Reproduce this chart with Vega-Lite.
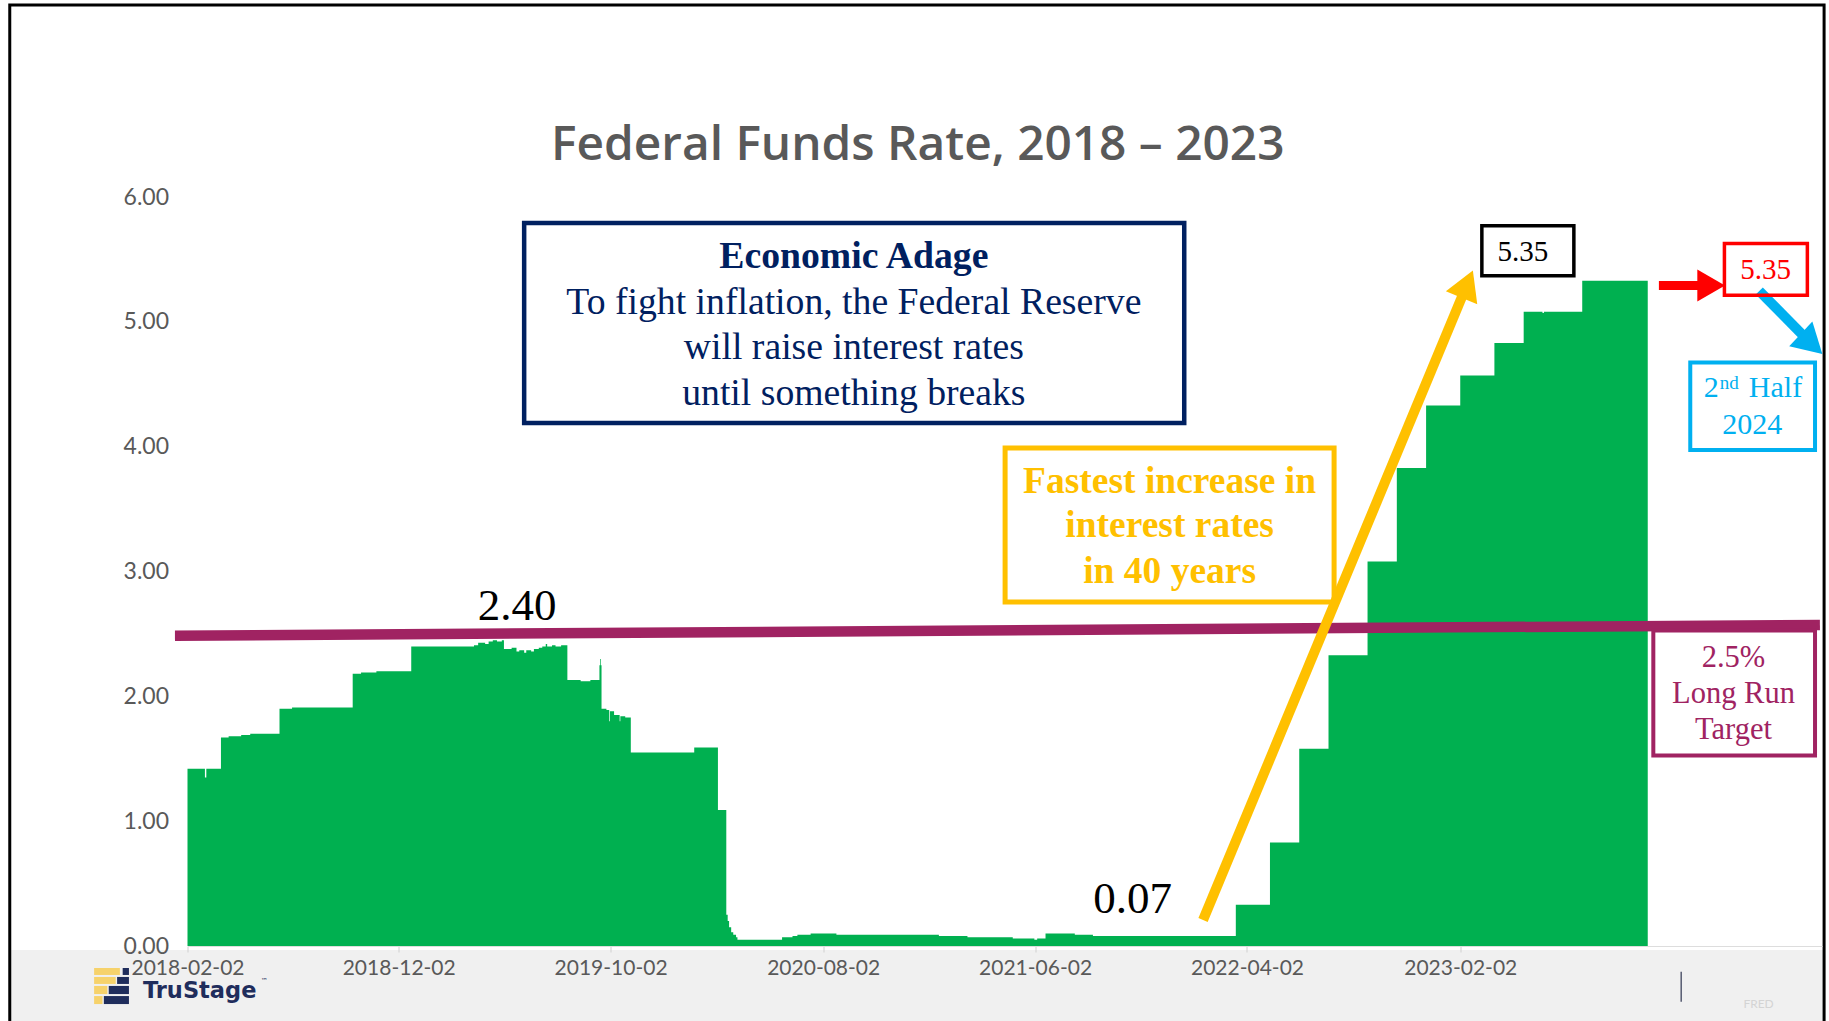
{
  "$schema": "https://vega.github.io/schema/vega-lite/v6.json",
  "width": 1634.5,
  "height": 749,
  "autosize": {"type": "none"},
  "padding": {"left": 187.5, "top": 197, "right": 7, "bottom": 75},
  "background": "white",
  "config": {"view": {"stroke": null}},
  "title": {
    "text": "Federal Funds Rate, 2018 – 2023",
    "font": "Open Sans",
    "fontSize": 47.8,
    "fontWeight": 600,
    "color": "#595959",
    "anchor": "middle",
    "frame": "group",
    "dx": -87,
    "offset": -204,
    "baseline": "alphabetic"
  },
  "layer": [
    {
      "data": {"values": [{}]},
      "mark": {"type": "rect", "color": "#f0f0f0"},
      "encoding": {
        "x": {"datum": {"year": 2017, "month": 5, "date": 23, "utc": true}, "type": "temporal"},
        "x2": {"datum": {"year": 2024, "month": 7, "date": 8, "utc": true}},
        "y": {"datum": -0.032, "type": "quantitative"},
        "y2": {"datum": -0.75}
      }
    },
    {
      "data": {"values": [
        {"date": "2018-02-02", "rate": 1.42},
        {"date": "2018-02-27", "rate": 1.35},
        {"date": "2018-03-01", "rate": 1.42},
        {"date": "2018-03-22", "rate": 1.67},
        {"date": "2018-04-02", "rate": 1.68},
        {"date": "2018-04-20", "rate": 1.69},
        {"date": "2018-05-03", "rate": 1.70},
        {"date": "2018-06-14", "rate": 1.90},
        {"date": "2018-07-02", "rate": 1.91},
        {"date": "2018-09-27", "rate": 2.18},
        {"date": "2018-10-09", "rate": 2.19},
        {"date": "2018-10-31", "rate": 2.20},
        {"date": "2018-12-20", "rate": 2.40},
        {"date": "2019-03-20", "rate": 2.41},
        {"date": "2019-03-26", "rate": 2.43},
        {"date": "2019-04-05", "rate": 2.42},
        {"date": "2019-04-10", "rate": 2.44},
        {"date": "2019-04-16", "rate": 2.45},
        {"date": "2019-04-22", "rate": 2.44},
        {"date": "2019-04-29", "rate": 2.45},
        {"date": "2019-05-02", "rate": 2.38},
        {"date": "2019-05-13", "rate": 2.39},
        {"date": "2019-05-20", "rate": 2.36},
        {"date": "2019-05-24", "rate": 2.37},
        {"date": "2019-05-31", "rate": 2.35},
        {"date": "2019-06-03", "rate": 2.37},
        {"date": "2019-06-10", "rate": 2.36},
        {"date": "2019-06-14", "rate": 2.38},
        {"date": "2019-06-21", "rate": 2.39},
        {"date": "2019-06-26", "rate": 2.40},
        {"date": "2019-07-01", "rate": 2.42},
        {"date": "2019-07-03", "rate": 2.40},
        {"date": "2019-07-10", "rate": 2.41},
        {"date": "2019-07-15", "rate": 2.40},
        {"date": "2019-07-23", "rate": 2.41},
        {"date": "2019-08-01", "rate": 2.13},
        {"date": "2019-08-20", "rate": 2.12},
        {"date": "2019-09-03", "rate": 2.13},
        {"date": "2019-09-16", "rate": 2.25},
        {"date": "2019-09-17", "rate": 2.30},
        {"date": "2019-09-18", "rate": 2.25},
        {"date": "2019-09-19", "rate": 1.90},
        {"date": "2019-09-26", "rate": 1.89},
        {"date": "2019-09-30", "rate": 1.80},
        {"date": "2019-10-01", "rate": 1.88},
        {"date": "2019-10-07", "rate": 1.85},
        {"date": "2019-10-15", "rate": 1.80},
        {"date": "2019-10-16", "rate": 1.84},
        {"date": "2019-10-23", "rate": 1.83},
        {"date": "2019-10-31", "rate": 1.55},
        {"date": "2020-01-30", "rate": 1.59},
        {"date": "2020-03-04", "rate": 1.09},
        {"date": "2020-03-16", "rate": 0.25},
        {"date": "2020-03-18", "rate": 0.20},
        {"date": "2020-03-20", "rate": 0.15},
        {"date": "2020-03-23", "rate": 0.11},
        {"date": "2020-03-26", "rate": 0.09},
        {"date": "2020-03-30", "rate": 0.07},
        {"date": "2020-04-01", "rate": 0.05},
        {"date": "2020-06-04", "rate": 0.07},
        {"date": "2020-06-19", "rate": 0.08},
        {"date": "2020-06-26", "rate": 0.09},
        {"date": "2020-07-15", "rate": 0.10},
        {"date": "2020-08-21", "rate": 0.09},
        {"date": "2021-01-15", "rate": 0.08},
        {"date": "2021-02-25", "rate": 0.07},
        {"date": "2021-05-01", "rate": 0.06},
        {"date": "2021-06-01", "rate": 0.05},
        {"date": "2021-06-05", "rate": 0.06},
        {"date": "2021-06-17", "rate": 0.10},
        {"date": "2021-07-29", "rate": 0.09},
        {"date": "2021-08-24", "rate": 0.08},
        {"date": "2022-03-17", "rate": 0.33},
        {"date": "2022-05-05", "rate": 0.83},
        {"date": "2022-06-16", "rate": 1.58},
        {"date": "2022-07-28", "rate": 2.33},
        {"date": "2022-09-22", "rate": 3.08},
        {"date": "2022-11-03", "rate": 3.83},
        {"date": "2022-12-15", "rate": 4.33},
        {"date": "2023-02-02", "rate": 4.57},
        {"date": "2023-03-23", "rate": 4.83},
        {"date": "2023-05-04", "rate": 5.08},
        {"date": "2023-05-31", "rate": 5.07},
        {"date": "2023-06-02", "rate": 5.08},
        {"date": "2023-07-27", "rate": 5.33},
        {"date": "2023-10-29", "rate": 5.33}
      ]},
      "mark": {"type": "area", "interpolate": "step-after", "color": "#00b050"},
      "encoding": {
        "x": {
          "field": "date", "type": "temporal",
          "scale": {"type": "utc", "domain": [
            {"year": 2018, "month": 2, "date": 2, "utc": true},
            {"year": 2024, "month": 7, "date": 5, "utc": true}
          ]},
          "axis": {
            "values": [
              {"year": 2018, "month": 2, "date": 2, "utc": true},
              {"year": 2018, "month": 12, "date": 2, "utc": true},
              {"year": 2019, "month": 10, "date": 2, "utc": true},
              {"year": 2020, "month": 8, "date": 2, "utc": true},
              {"year": 2021, "month": 6, "date": 2, "utc": true},
              {"year": 2022, "month": 4, "date": 2, "utc": true},
              {"year": 2023, "month": 2, "date": 2, "utc": true}
            ],
            "labelExpr": "utcFormat(datum.value, '%Y-%m-%d')",
            "title": null, "grid": false,
            "labelFont": "Lato", "labelFontSize": 21, "labelColor": "#595959",
            "tickColor": "#d0d0d0", "tickSize": 6, "tickWidth": 1,
            "domainColor": "#dddddd", "labelPadding": 5,
            "labelFlush": false, "labelOverlap": false, "zindex": 1
          }
        },
        "y": {
          "field": "rate", "type": "quantitative",
          "scale": {"domain": [0, 6]},
          "axis": {
            "values": [0, 1, 2, 3, 4, 5, 6], "format": ".2f",
            "title": null, "grid": false, "ticks": false, "domain": false,
            "labelFont": "Lato", "labelFontSize": 23, "labelColor": "#595959",
            "labelPadding": 19, "zindex": 1
          }
        }
      }
    },
    {
      "data": {"values": [{}]},
      "mark": {"type": "rule", "color": "#a02362", "strokeWidth": 10.5},
      "encoding": {
        "x": {"datum": {"year": 2018, "month": 1, "date": 15, "utc": true}, "type": "temporal"},
        "x2": {"datum": {"year": 2024, "month": 7, "date": 2, "utc": true}},
        "y": {"datum": 2.485, "type": "quantitative"},
        "y2": {"datum": 2.572}
      }
    },
    {
      "data": {"values": [{}]},
      "mark": {"type": "rect", "fill": "transparent", "stroke": "#002060", "strokeWidth": 4.5},
      "encoding": {
        "x": {"datum": {"year": 2019, "month": 5, "date": 31, "utc": true}, "type": "temporal"},
        "x2": {"datum": {"year": 2022, "month": 1, "date": 2, "utc": true}},
        "y": {"datum": 5.792, "type": "quantitative"},
        "y2": {"datum": 4.190}
      }
    },
    {
      "data": {"values": [{}]},
      "mark": {"type": "text", "text": "Economic Adage", "font": "Liberation Serif", "fontSize": 37.7, "fontWeight": "bold", "color": "#002060", "align": "center", "baseline": "alphabetic"},
      "encoding": {
        "x": {"datum": {"year": 2020, "month": 9, "date": 15, "utc": true}, "type": "temporal"},
        "y": {"datum": 5.429, "type": "quantitative"}
      }
    },
    {
      "data": {"values": [{}]},
      "mark": {"type": "text", "text": "To fight inflation, the Federal Reserve", "font": "Liberation Serif", "fontSize": 37.7, "color": "#002060", "align": "center", "baseline": "alphabetic"},
      "encoding": {
        "x": {"datum": {"year": 2020, "month": 9, "date": 15, "utc": true}, "type": "temporal"},
        "y": {"datum": 5.065, "type": "quantitative"}
      }
    },
    {
      "data": {"values": [{}]},
      "mark": {"type": "text", "text": "will raise interest rates", "font": "Liberation Serif", "fontSize": 37.7, "color": "#002060", "align": "center", "baseline": "alphabetic"},
      "encoding": {
        "x": {"datum": {"year": 2020, "month": 9, "date": 15, "utc": true}, "type": "temporal"},
        "y": {"datum": 4.700, "type": "quantitative"}
      }
    },
    {
      "data": {"values": [{}]},
      "mark": {"type": "text", "text": "until something breaks", "font": "Liberation Serif", "fontSize": 37.7, "color": "#002060", "align": "center", "baseline": "alphabetic"},
      "encoding": {
        "x": {"datum": {"year": 2020, "month": 9, "date": 15, "utc": true}, "type": "temporal"},
        "y": {"datum": 4.336, "type": "quantitative"}
      }
    },
    {
      "data": {"values": [{}]},
      "mark": {"type": "rect", "fill": "transparent", "stroke": "#ffc000", "strokeWidth": 5},
      "encoding": {
        "x": {"datum": {"year": 2021, "month": 4, "date": 20, "utc": true}, "type": "temporal"},
        "x2": {"datum": {"year": 2022, "month": 8, "date": 5, "utc": true}},
        "y": {"datum": 3.989, "type": "quantitative"},
        "y2": {"datum": 2.756}
      }
    },
    {
      "data": {"values": [{}]},
      "mark": {"type": "text", "text": "Fastest increase in", "font": "Liberation Serif", "fontSize": 37.5, "fontWeight": "bold", "color": "#ffc000", "align": "center", "baseline": "alphabetic"},
      "encoding": {
        "x": {"datum": {"year": 2021, "month": 12, "date": 12, "utc": true}, "type": "temporal"},
        "y": {"datum": 3.631, "type": "quantitative"}
      }
    },
    {
      "data": {"values": [{}]},
      "mark": {"type": "text", "text": "interest rates", "font": "Liberation Serif", "fontSize": 37.5, "fontWeight": "bold", "color": "#ffc000", "align": "center", "baseline": "alphabetic"},
      "encoding": {
        "x": {"datum": {"year": 2021, "month": 12, "date": 12, "utc": true}, "type": "temporal"},
        "y": {"datum": 3.274, "type": "quantitative"}
      }
    },
    {
      "data": {"values": [{}]},
      "mark": {"type": "text", "text": "in 40 years", "font": "Liberation Serif", "fontSize": 37.5, "fontWeight": "bold", "color": "#ffc000", "align": "center", "baseline": "alphabetic"},
      "encoding": {
        "x": {"datum": {"year": 2021, "month": 12, "date": 12, "utc": true}, "type": "temporal"},
        "y": {"datum": 2.910, "type": "quantitative"}
      }
    },
    {
      "data": {"values": [{}]},
      "mark": {"type": "rule", "color": "#ffc000", "strokeWidth": 10},
      "encoding": {
        "x": {"datum": {"year": 2022, "month": 1, "date": 29, "utc": true}, "type": "temporal"},
        "x2": {"datum": {"year": 2023, "month": 2, "date": 12, "utc": true}},
        "y": {"datum": 0.208, "type": "quantitative"},
        "y2": {"datum": 5.302}
      }
    },
    {
      "data": {"values": [{}]},
      "mark": {"type": "point", "shape": "triangle-up", "filled": true, "size": 1156, "angle": 22.6, "color": "#ffc000", "opacity": 1},
      "encoding": {
        "x": {"datum": {"year": 2023, "month": 2, "date": 12, "utc": true}, "type": "temporal"},
        "y": {"datum": 5.302, "type": "quantitative"}
      }
    },
    {
      "data": {"values": [{}]},
      "mark": {"type": "text", "text": "0.07", "font": "Liberation Serif", "fontSize": 45, "color": "#000000", "align": "center", "baseline": "alphabetic"},
      "encoding": {
        "x": {"datum": {"year": 2021, "month": 10, "date": 20, "utc": true}, "type": "temporal"},
        "y": {"datum": 0.264, "type": "quantitative"}
      }
    },
    {
      "data": {"values": [{}]},
      "mark": {"type": "text", "text": "2.40", "font": "Liberation Serif", "fontSize": 45, "color": "#000000", "align": "center", "baseline": "alphabetic"},
      "encoding": {
        "x": {"datum": {"year": 2019, "month": 5, "date": 21, "utc": true}, "type": "temporal"},
        "y": {"datum": 2.612, "type": "quantitative"}
      }
    },
    {
      "data": {"values": [{}]},
      "mark": {"type": "rect", "fill": "transparent", "stroke": "#000000", "strokeWidth": 3.5},
      "encoding": {
        "x": {"datum": {"year": 2023, "month": 3, "date": 5, "utc": true}, "type": "temporal"},
        "x2": {"datum": {"year": 2023, "month": 7, "date": 15, "utc": true}},
        "y": {"datum": 5.770, "type": "quantitative"},
        "y2": {"datum": 5.370}
      }
    },
    {
      "data": {"values": [{}]},
      "mark": {"type": "text", "text": "5.35", "font": "Liberation Serif", "fontSize": 29, "color": "#000000", "align": "center", "baseline": "alphabetic"},
      "encoding": {
        "x": {"datum": {"year": 2023, "month": 5, "date": 3, "utc": true}, "type": "temporal"},
        "y": {"datum": 5.490, "type": "quantitative"}
      }
    },
    {
      "data": {"values": [{}]},
      "mark": {"type": "rule", "color": "#ff0000", "strokeWidth": 9},
      "encoding": {
        "x": {"datum": {"year": 2023, "month": 11, "date": 14, "utc": true}, "type": "temporal"},
        "x2": {"datum": {"year": 2024, "month": 1, "date": 29, "utc": true}},
        "y": {"datum": 5.291, "type": "quantitative"},
        "y2": {"datum": 5.291}
      }
    },
    {
      "data": {"values": [{}]},
      "mark": {"type": "point", "shape": "triangle-right", "filled": true, "size": 1024, "color": "#ff0000", "opacity": 1},
      "encoding": {
        "x": {"datum": {"year": 2024, "month": 1, "date": 28, "utc": true}, "type": "temporal"},
        "y": {"datum": 5.291, "type": "quantitative"}
      }
    },
    {
      "data": {"values": [{}]},
      "mark": {"type": "rule", "color": "#00b0f0", "strokeWidth": 10},
      "encoding": {
        "x": {"datum": {"year": 2024, "month": 4, "date": 6, "utc": true}, "type": "temporal"},
        "x2": {"datum": {"year": 2024, "month": 6, "date": 20, "utc": true}},
        "y": {"datum": 5.247, "type": "quantitative"},
        "y2": {"datum": 4.823}
      }
    },
    {
      "data": {"values": [{}]},
      "mark": {"type": "point", "shape": "triangle-right", "filled": true, "size": 1156, "angle": 43, "color": "#00b0f0", "opacity": 1},
      "encoding": {
        "x": {"datum": {"year": 2024, "month": 6, "date": 20, "utc": true}, "type": "temporal"},
        "y": {"datum": 4.823, "type": "quantitative"}
      }
    },
    {
      "data": {"values": [{}]},
      "mark": {"type": "rect", "fill": "transparent", "stroke": "#ff0000", "strokeWidth": 3.5},
      "encoding": {
        "x": {"datum": {"year": 2024, "month": 2, "date": 16, "utc": true}, "type": "temporal"},
        "x2": {"datum": {"year": 2024, "month": 6, "date": 14, "utc": true}},
        "y": {"datum": 5.627, "type": "quantitative"},
        "y2": {"datum": 5.212}
      }
    },
    {
      "data": {"values": [{}]},
      "mark": {"type": "text", "text": "5.35", "font": "Liberation Serif", "fontSize": 29, "color": "#ff0000", "align": "center", "baseline": "alphabetic"},
      "encoding": {
        "x": {"datum": {"year": 2024, "month": 4, "date": 15, "utc": true}, "type": "temporal"},
        "y": {"datum": 5.341, "type": "quantitative"}
      }
    },
    {
      "data": {"values": [{}]},
      "mark": {"type": "rect", "fill": "transparent", "stroke": "#00b0f0", "strokeWidth": 4},
      "encoding": {
        "x": {"datum": {"year": 2023, "month": 12, "date": 29, "utc": true}, "type": "temporal"},
        "x2": {"datum": {"year": 2024, "month": 6, "date": 25, "utc": true}},
        "y": {"datum": 4.674, "type": "quantitative"},
        "y2": {"datum": 3.973}
      }
    },
    {
      "data": {"values": [{}]},
      "mark": {"type": "text", "text": "2", "font": "Liberation Serif", "fontSize": 30, "color": "#00b0f0", "align": "right", "baseline": "alphabetic"},
      "encoding": {
        "x": {"datum": {"year": 2024, "month": 2, "date": 8, "utc": true}, "type": "temporal"},
        "y": {"datum": 4.398, "type": "quantitative"}
      }
    },
    {
      "data": {"values": [{}]},
      "mark": {"type": "text", "text": "nd", "font": "Liberation Serif", "fontSize": 19, "color": "#00b0f0", "align": "left", "baseline": "alphabetic", "dx": 1},
      "encoding": {
        "x": {"datum": {"year": 2024, "month": 2, "date": 8, "utc": true}, "type": "temporal"},
        "y": {"datum": 4.465, "type": "quantitative"}
      }
    },
    {
      "data": {"values": [{}]},
      "mark": {"type": "text", "text": "Half", "font": "Liberation Serif", "fontSize": 30, "color": "#00b0f0", "align": "left", "baseline": "alphabetic"},
      "encoding": {
        "x": {"datum": {"year": 2024, "month": 3, "date": 22, "utc": true}, "type": "temporal"},
        "y": {"datum": 4.398, "type": "quantitative"}
      }
    },
    {
      "data": {"values": [{}]},
      "mark": {"type": "text", "text": "2024", "font": "Liberation Serif", "fontSize": 30, "color": "#00b0f0", "align": "center", "baseline": "alphabetic"},
      "encoding": {
        "x": {"datum": {"year": 2024, "month": 3, "date": 27, "utc": true}, "type": "temporal"},
        "y": {"datum": 4.102, "type": "quantitative"}
      }
    },
    {
      "data": {"values": [{}]},
      "mark": {"type": "rect", "fill": "transparent", "stroke": "#a02362", "strokeWidth": 4},
      "encoding": {
        "x": {"datum": {"year": 2023, "month": 11, "date": 6, "utc": true}, "type": "temporal"},
        "x2": {"datum": {"year": 2024, "month": 6, "date": 25, "utc": true}},
        "y": {"datum": 2.528, "type": "quantitative"},
        "y2": {"datum": 1.527}
      }
    },
    {
      "data": {"values": [{}]},
      "mark": {"type": "text", "text": "2.5%", "font": "Liberation Serif", "fontSize": 30.5, "color": "#a02362", "align": "center", "baseline": "alphabetic"},
      "encoding": {
        "x": {"datum": {"year": 2024, "month": 2, "date": 29, "utc": true}, "type": "temporal"},
        "y": {"datum": 2.233, "type": "quantitative"}
      }
    },
    {
      "data": {"values": [{}]},
      "mark": {"type": "text", "text": "Long Run", "font": "Liberation Serif", "fontSize": 30.5, "color": "#a02362", "align": "center", "baseline": "alphabetic"},
      "encoding": {
        "x": {"datum": {"year": 2024, "month": 2, "date": 29, "utc": true}, "type": "temporal"},
        "y": {"datum": 1.946, "type": "quantitative"}
      }
    },
    {
      "data": {"values": [{}]},
      "mark": {"type": "text", "text": "Target", "font": "Liberation Serif", "fontSize": 30.5, "color": "#a02362", "align": "center", "baseline": "alphabetic"},
      "encoding": {
        "x": {"datum": {"year": 2024, "month": 2, "date": 29, "utc": true}, "type": "temporal"},
        "y": {"datum": 1.656, "type": "quantitative"}
      }
    },
    {
      "data": {"values": [{}]},
      "mark": {"type": "rect", "color": "#f6d26b"},
      "encoding": {
        "x": {"datum": {"year": 2017, "month": 9, "date": 21, "utc": true}, "type": "temporal"},
        "x2": {"datum": {"year": 2017, "month": 10, "date": 28, "utc": true}},
        "y": {"datum": -0.176, "type": "quantitative"},
        "y2": {"datum": -0.232}
      }
    },
    {
      "data": {"values": [{}]},
      "mark": {"type": "rect", "color": "#f6d26b"},
      "encoding": {
        "x": {"datum": {"year": 2017, "month": 9, "date": 21, "utc": true}, "type": "temporal"},
        "x2": {"datum": {"year": 2017, "month": 10, "date": 22, "utc": true}},
        "y": {"datum": -0.248, "type": "quantitative"},
        "y2": {"datum": -0.304}
      }
    },
    {
      "data": {"values": [{}]},
      "mark": {"type": "rect", "color": "#f6d26b"},
      "encoding": {
        "x": {"datum": {"year": 2017, "month": 9, "date": 21, "utc": true}, "type": "temporal"},
        "x2": {"datum": {"year": 2017, "month": 10, "date": 10, "utc": true}},
        "y": {"datum": -0.320, "type": "quantitative"},
        "y2": {"datum": -0.385}
      }
    },
    {
      "data": {"values": [{}]},
      "mark": {"type": "rect", "color": "#f6d26b"},
      "encoding": {
        "x": {"datum": {"year": 2017, "month": 9, "date": 21, "utc": true}, "type": "temporal"},
        "x2": {"datum": {"year": 2017, "month": 10, "date": 3, "utc": true}},
        "y": {"datum": -0.401, "type": "quantitative"},
        "y2": {"datum": -0.465}
      }
    },
    {
      "data": {"values": [{}]},
      "mark": {"type": "rect", "color": "#1f2d5c"},
      "encoding": {
        "x": {"datum": {"year": 2017, "month": 11, "date": 1, "utc": true}, "type": "temporal"},
        "x2": {"datum": {"year": 2017, "month": 11, "date": 10, "utc": true}},
        "y": {"datum": -0.176, "type": "quantitative"},
        "y2": {"datum": -0.232}
      }
    },
    {
      "data": {"values": [{}]},
      "mark": {"type": "rect", "color": "#1f2d5c"},
      "encoding": {
        "x": {"datum": {"year": 2017, "month": 10, "date": 24, "utc": true}, "type": "temporal"},
        "x2": {"datum": {"year": 2017, "month": 11, "date": 10, "utc": true}},
        "y": {"datum": -0.248, "type": "quantitative"},
        "y2": {"datum": -0.304}
      }
    },
    {
      "data": {"values": [{}]},
      "mark": {"type": "rect", "color": "#1f2d5c"},
      "encoding": {
        "x": {"datum": {"year": 2017, "month": 10, "date": 12, "utc": true}, "type": "temporal"},
        "x2": {"datum": {"year": 2017, "month": 11, "date": 10, "utc": true}},
        "y": {"datum": -0.320, "type": "quantitative"},
        "y2": {"datum": -0.385}
      }
    },
    {
      "data": {"values": [{}]},
      "mark": {"type": "rect", "color": "#1f2d5c"},
      "encoding": {
        "x": {"datum": {"year": 2017, "month": 10, "date": 5, "utc": true}, "type": "temporal"},
        "x2": {"datum": {"year": 2017, "month": 11, "date": 10, "utc": true}},
        "y": {"datum": -0.401, "type": "quantitative"},
        "y2": {"datum": -0.465}
      }
    },
    {
      "data": {"values": [{}]},
      "mark": {"type": "text", "text": "TruStage", "font": "DejaVu Sans", "fontSize": 22.5, "fontWeight": "bold", "color": "#1f2d5c", "align": "left", "baseline": "alphabetic"},
      "encoding": {
        "x": {"datum": {"year": 2017, "month": 11, "date": 30, "utc": true}, "type": "temporal"},
        "y": {"datum": -0.419, "type": "quantitative"}
      }
    },
    {
      "data": {"values": [{}]},
      "mark": {"type": "text", "text": "™", "font": "DejaVu Sans", "fontSize": 7, "color": "#1f2d5c", "align": "left", "baseline": "alphabetic"},
      "encoding": {
        "x": {"datum": {"year": 2018, "month": 5, "date": 18, "utc": true}, "type": "temporal"},
        "y": {"datum": -0.296, "type": "quantitative"}
      }
    },
    {
      "data": {"values": [{}]},
      "mark": {"type": "rule", "color": "#555a70", "strokeWidth": 1.5},
      "encoding": {
        "x": {"datum": {"year": 2023, "month": 12, "date": 16, "utc": true}, "type": "temporal"},
        "y": {"datum": -0.206, "type": "quantitative"},
        "y2": {"datum": -0.446}
      }
    },
    {
      "data": {"values": [{}]},
      "mark": {"type": "text", "text": "FRED", "font": "Lato", "fontSize": 12, "color": "#d4d4d4", "align": "center", "baseline": "alphabetic"},
      "encoding": {
        "x": {"datum": {"year": 2024, "month": 4, "date": 5, "utc": true}, "type": "temporal"},
        "y": {"datum": -0.499, "type": "quantitative"}
      }
    },
    {
      "data": {"values": [{}]},
      "mark": {"type": "rect", "fill": "transparent", "stroke": "#000000", "strokeWidth": 3},
      "encoding": {
        "x": {"datum": {"year": 2017, "month": 5, "date": 23, "utc": true}, "type": "temporal"},
        "x2": {"datum": {"year": 2024, "month": 7, "date": 8, "utc": true}},
        "y": {"datum": 7.538, "type": "quantitative"},
        "y2": {"datum": -0.75}
      }
    }
  ]
}
